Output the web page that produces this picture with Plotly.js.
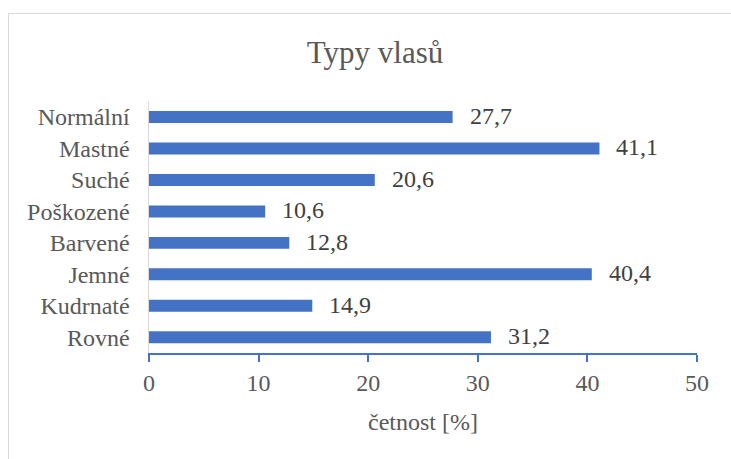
<!DOCTYPE html>
<html>
<head>
<meta charset="utf-8">
<script src="https://cdn.plot.ly/plotly-3.0.1.min.js"></script>
<style>
html,body{margin:0;padding:0;background:#fff;}
#wrap{position:relative;width:731px;height:459px;}
#chart{position:absolute;left:0;top:0;width:731px;height:459px;}
#frame{position:absolute;left:8px;top:13px;width:740px;height:460px;border-left:1.5px solid #d9d9d9;border-top:1.5px solid #d9d9d9;pointer-events:none;}
</style>
</head>
<body>
<div id="wrap"><div id="chart"></div><div id="frame"></div></div>
<script>
const categories = ["Normální","Mastné","Suché","Poškozené","Barvené","Jemné","Kudrnaté","Rovné"];
const values = [27.7, 41.1, 20.6, 10.6, 12.8, 40.4, 14.9, 31.2];
const tickVals = [0,10,20,30,40,50];
const titleText = "Typy vlasů";
const xTitle = "četnost [%]";

const fontFam = "'Liberation Serif', 'Times New Roman', Tinos, 'DejaVu Serif', serif";
const gray = "#595959";
const blue = "#4472C4";

const trace = {
  type: "bar",
  orientation: "h",
  x: values,
  y: categories,
  marker: {color: blue},
  width: 0.38,
  hoverinfo: "none"
};

const annotations = values.map((v, i) => ({
  x: v, y: categories[i], xref: "x", yref: "y",
  text: v.toFixed(1).replace(".", ","),
  showarrow: false, xanchor: "left", yanchor: "middle",
  xshift: 15, yshift: 1,
  font: {family: fontFam, size: 24, color: "#404040"}
}));

const layout = {
  width: 731, height: 459,
  margin: {l: 149, r: 34, t: 101, b: 106, pad: 0},
  paper_bgcolor: "#fff", plot_bgcolor: "#fff",
  showlegend: false,
  font: {family: fontFam},
  title: {text: titleText, font: {family: fontFam, size: 31, color: gray},
          xref: "container", x: 0.513, xanchor: "center",
          yref: "container", y: 1 - 52/459, yanchor: "middle"},
  xaxis: {
    range: [0, 50], tickvals: tickVals, ticktext: tickVals.map(String),
    showgrid: false, zeroline: false,
    showline: true, linecolor: blue, linewidth: 2,
    ticks: "outside", ticklen: 7, tickwidth: 2, tickcolor: blue,
    tickfont: {family: fontFam, size: 24, color: gray},
    title: {text: xTitle, font: {family: fontFam, size: 24, color: gray}, standoff: 18},
    fixedrange: true
  },
  yaxis: {
    categoryorder: "array", categoryarray: categories.slice().reverse(),
    showgrid: false, zeroline: false,
    showline: true, linecolor: "#d9d9d9", linewidth: 1.5,
    ticks: "", ticklabelstandoff: 13,
    tickfont: {family: fontFam, size: 24, color: gray},
    fixedrange: true
  },
  annotations: annotations
};

Plotly.newPlot("chart", [trace], layout, {displayModeBar: false, staticPlot: true});
</script>
</body>
</html>
